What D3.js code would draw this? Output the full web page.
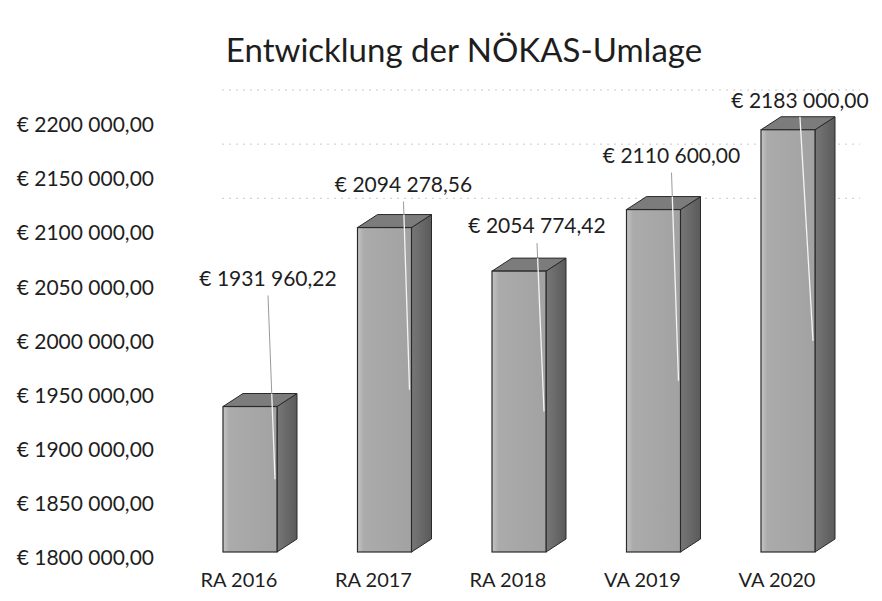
<!DOCTYPE html>
<html>
<head>
<meta charset="utf-8">
<script src="https://cdn.jsdelivr.net/npm/d3@7"></script>
<style>
  body { margin: 0; background: #fff; }
  text { font-family: Lato, "Open Sans", sans-serif; fill: #1e1e1e; }
</style>
</head>
<body>
<svg id="chart" width="882" height="601"></svg>
<script>
// data
var categories = ["RA 2016", "RA 2017", "RA 2018", "VA 2019", "VA 2020"];
var values = [1931960.22, 2094278.56, 2054774.42, 2110600.00, 2183000.00];
var yTicks = [1800000, 1850000, 1900000, 1950000, 2000000, 2050000, 2100000, 2150000, 2200000];
var titleText = "Entwicklung der NÖKAS-Umlage";

// layout of the hand-placed data labels (pixels)
var labelLift = [121, 36, 38, 47, 22];
var labelShift = [45, 46, 45, 45, 39];

var svg = d3.select("#chart");

// euro format as printed: "€ 2094 278,56"
function euro(v) {
    var cents = Math.round(v * 100);
    var whole = Math.floor(cents / 100), c = cents % 100;
    var hi = Math.floor(whole / 1000), lo = whole % 1000;
    return "€ " + hi + " " + String(lo).padStart(3, "0") + "," + String(c).padStart(2, "0");
}

var frontW = 54, dx = 20, dy = 13, floorY = 552;

// axis scale (labels) and projected scale for the bar fronts
var y = d3.scaleLinear().domain([1800000, 2200000]).range([558, 125]);
var yBar = d3.scaleLinear().domain([1800000, 2200000]).range([floorY, 111]);
var x = d3.scalePoint().domain(categories).range([223, 761]);

// title
svg.append("text")
    .attr("x", 464).attr("y", 62)
    .attr("text-anchor", "middle")
    .style("font-size", "33px")
    .text(titleText);

// faint back-wall gridlines (only the upper ones survive in the scan)
svg.selectAll(".grid")
    .data(yTicks.filter(function(d){ return d >= 2100000; }))
  .enter().append("line")
    .attr("class", "grid")
    .attr("x1", 222).attr("x2", 860)
    .attr("y1", function(d){ return y(d) - 35; })
    .attr("y2", function(d){ return y(d) - 35; })
    .attr("stroke", "#c8c8c8")
    .attr("stroke-dasharray", "2,5");

// y axis, labels only
var yAxis = svg.append("g")
    .attr("transform", "translate(154,0)")
    .call(d3.axisLeft(y).tickValues(yTicks).tickSize(0).tickPadding(0).tickFormat(euro));
yAxis.select(".domain").remove();
yAxis.selectAll("text")
    .style("font-size", "21px")
    .style("font-family", "Lato, 'Open Sans', sans-serif")
    .attr("fill", "#1e1e1e");

// category labels
svg.selectAll(".cat")
    .data(categories)
  .enter().append("text")
    .attr("class", "cat")
    .attr("x", function(d){ return x(d) + 16; })
    .attr("y", 587)
    .attr("text-anchor", "middle")
    .style("font-size", "20px")
    .text(function(d){ return d; });

var bars = categories.map(function(c, i){
    var x0 = x(c), top = yBar(values[i]);
    var lx = x0 + labelShift[i], ly = top - labelLift[i];
    return {c: c, v: values[i], x0: x0, top: top, lx: lx, ly: ly,
            ex: x0 + 52, ey: (top + floorY) / 2};
});

// leader lines behind the bars
svg.selectAll(".leader")
    .data(bars)
  .enter().append("line")
    .attr("class", "leader")
    .attr("x1", function(d){ return d.lx; })
    .attr("y1", function(d){ return d.ly + 10; })
    .attr("x2", function(d){ return d.ex; })
    .attr("y2", function(d){ return d.ey; })
    .attr("stroke", "#9a9a9a")
    .attr("stroke-width", 1);

// gradients
var defs = svg.append("defs");
var gFront = defs.append("linearGradient").attr("id", "gFront").attr("x1", 0).attr("x2", 1);
gFront.append("stop").attr("offset", "0%").attr("stop-color", "#c4c4c4");
gFront.append("stop").attr("offset", "12%").attr("stop-color", "#ababab");
gFront.append("stop").attr("offset", "100%").attr("stop-color", "#a2a2a2");
var gSide = defs.append("linearGradient").attr("id", "gSide").attr("x1", 0).attr("x2", 1);
gSide.append("stop").attr("offset", "0%").attr("stop-color", "#777");
gSide.append("stop").attr("offset", "100%").attr("stop-color", "#5a5a5a");

var g = svg.selectAll(".bar")
    .data(bars)
  .enter().append("g")
    .attr("class", "bar");

// side face
g.append("path")
    .attr("d", function(d){
        var r = d.x0 + frontW;
        return "M" + r + "," + d.top + "L" + (r + dx) + "," + (d.top - dy) +
               "L" + (r + dx) + "," + (floorY - dy) + "L" + r + "," + floorY + "Z";
    })
    .attr("fill", "url(#gSide)")
    .attr("stroke", "#2a2a2a")
    .attr("stroke-width", 1);

// top face
g.append("path")
    .attr("d", function(d){
        return "M" + d.x0 + "," + d.top + "L" + (d.x0 + dx) + "," + (d.top - dy) +
               "L" + (d.x0 + frontW + dx) + "," + (d.top - dy) +
               "L" + (d.x0 + frontW) + "," + d.top + "Z";
    })
    .attr("fill", "#7c7c7c")
    .attr("stroke", "#2a2a2a")
    .attr("stroke-width", 1);

// front face
g.append("rect")
    .attr("x", function(d){ return d.x0; })
    .attr("y", function(d){ return d.top; })
    .attr("width", frontW)
    .attr("height", function(d){ return floorY - d.top; })
    .attr("fill", "url(#gFront)")
    .attr("stroke", "#2a2a2a")
    .attr("stroke-width", 1.2);

// light leader segment drawn over the bar
g.append("line")
    .attr("x1", function(d){
        var yt = d.top - dy, t = (yt - (d.ly + 10)) / (d.ey - (d.ly + 10));
        return d.lx + t * (d.ex - d.lx);
    })
    .attr("y1", function(d){ return d.top - dy; })
    .attr("x2", function(d){ return d.ex; })
    .attr("y2", function(d){ return d.ey; })
    .attr("stroke", "#f4f4f4")
    .attr("stroke-width", 1.3);

// data labels
svg.selectAll(".val")
    .data(bars)
  .enter().append("text")
    .attr("class", "val")
    .attr("x", function(d){ return d.lx; })
    .attr("y", function(d){ return d.ly; })
    .attr("text-anchor", "middle")
    .style("font-size", "21px")
    .text(function(d){ return euro(d.v); });
</script>
</body>
</html>
